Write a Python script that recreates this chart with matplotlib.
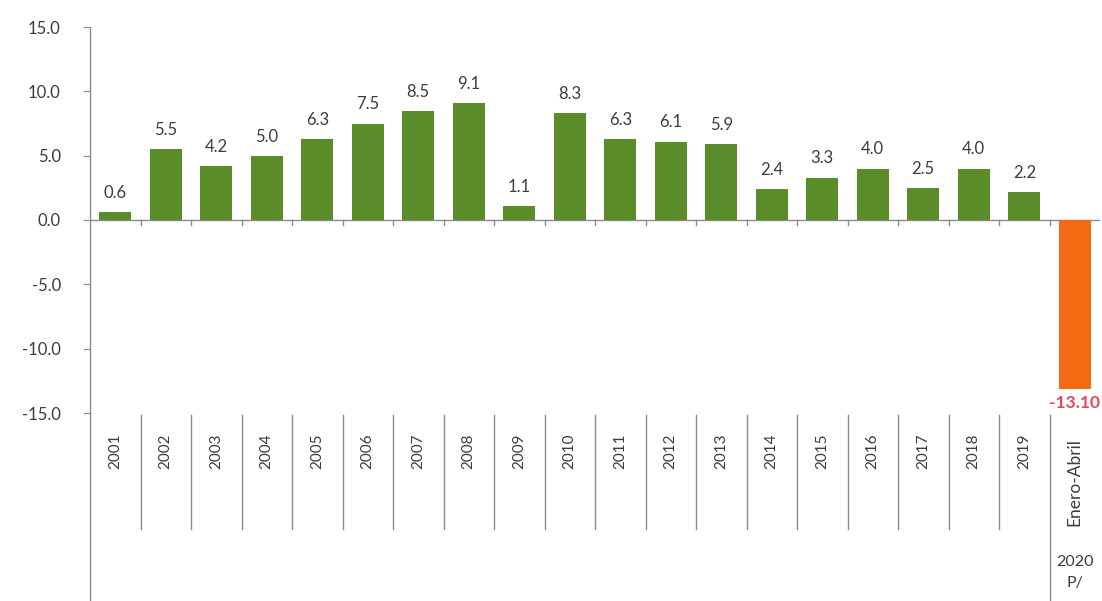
import matplotlib
matplotlib.use("Agg")
import matplotlib.pyplot as plt
from matplotlib.lines import Line2D

plt.rcParams.update({
    "font.family": ["Lato", "DejaVu Sans"],
    "font.size": 12,
    "text.color": "#404040",
})

years = ["2001", "2002", "2003", "2004", "2005", "2006", "2007", "2008", "2009", "2010",
         "2011", "2012", "2013", "2014", "2015", "2016", "2017", "2018", "2019", "Enero-Abril"]
growth = [0.6, 5.5, 4.2, 5.0, 6.3, 7.5, 8.5, 9.1, 1.1, 8.3,
          6.3, 6.1, 5.9, 2.4, 3.3, 4.0, 2.5, 4.0, 2.2, -13.10]
value_labels = ["0.6", "5.5", "4.2", "5.0", "6.3", "7.5", "8.5", "9.1", "1.1", "8.3",
                "6.3", "6.1", "5.9", "2.4", "3.3", "4.0", "2.5", "4.0", "2.2", "-13.10"]
yticks = [15.0, 10.0, 5.0, 0.0, -5.0, -10.0, -15.0]
group_label = "2020\nP/"

GREEN = "#5b8c2a"
ORANGE = "#f26b12"
AXIS = "#8c8c8c"
TEXT = "#3c3c3c"

fig = plt.figure(figsize=(11.02, 6.01), dpi=100)
ax = fig.add_axes([90 / 1102, 188 / 601, 1010 / 1102, 386 / 601])

n = len(years)
x = list(range(n))
colors = [GREEN if v >= 0 else ORANGE for v in growth]
ax.bar(x, growth, width=0.64, color=colors, zorder=2)

ax.set_xlim(-0.5, n - 0.5)
ax.set_ylim(-15, 15)
ax.set_yticks(yticks)
ax.set_yticklabels([f"{t:.1f}" for t in yticks], color=TEXT, fontsize=12)
ax.tick_params(axis="y", length=5, color=AXIS, pad=16)
ax.set_xticks([])

for side in ("top", "right", "bottom"):
    ax.spines[side].set_visible(False)
ax.spines["left"].set_color(AXIS)
ax.spines["left"].set_linewidth(1.0)

# horizontal category axis sits at zero
ax.axhline(0, color=AXIS, lw=1.0, zorder=1)
for b in range(1, n):
    ax.plot([b - 0.5, b - 0.5], [0, -0.35], color=AXIS, lw=1.0, zorder=1, clip_on=False)

# value labels
for xi, v, lab in zip(x, growth, value_labels):
    if v >= 0:
        ax.annotate(lab, (xi, v), xytext=(0, 8), textcoords="offset points",
                    ha="center", va="bottom", fontsize=12, color=TEXT)
    else:
        ax.annotate(lab, (xi, v), xytext=(0, -5), textcoords="offset points",
                    ha="center", va="top", fontsize=12.5, color="#e8455f",
                    fontweight="bold", annotation_clip=False)

# multi-level category axis below the plot
tr = ax.get_xaxis_transform()
for xi, name in zip(x[:-1], years[:-1]):
    ax.text(xi, -0.1, name, transform=tr, rotation=90, ha="center", va="center",
            fontsize=11, color=TEXT, clip_on=False)
ax.text(x[-1], -0.18, years[-1], transform=tr, rotation=90, ha="center", va="center",
        fontsize=12.5, color=TEXT, clip_on=False)
for b in range(1, n):
    bottom = -0.487 if b == n - 1 else -0.30
    ax.add_line(Line2D([b - 0.5, b - 0.5], [-0.005, bottom], transform=tr,
                       color=AXIS, lw=1.0, clip_on=False))
ax.add_line(Line2D([-0.5, -0.5], [0, -0.487], transform=tr,
                   color=AXIS, lw=1.0, clip_on=False))
ax.text(n - 1, -0.413, group_label, transform=tr, ha="center", va="center",
        fontsize=11.5, color=TEXT, linespacing=1.6, clip_on=False)

fig.savefig("out.png", dpi=100, facecolor="white")
